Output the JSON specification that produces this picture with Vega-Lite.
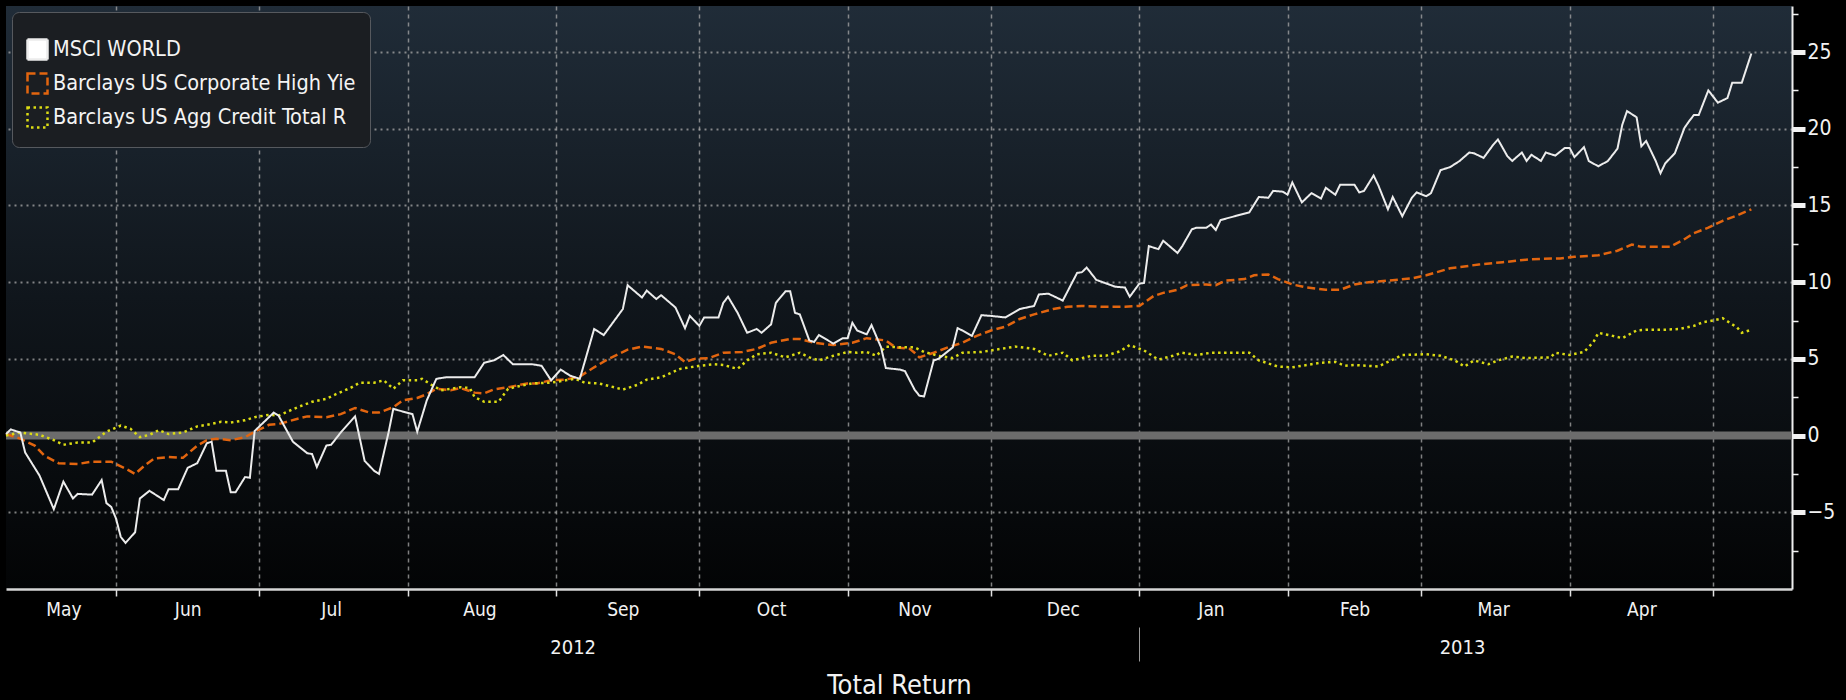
{
  "$schema": "https://vega.github.io/schema/vega-lite/v6.json",
  "width": 1786,
  "height": 583,
  "autosize": {"type": "none"},
  "padding": {"left": 6, "top": 6, "right": 54, "bottom": 111},
  "background": "#000000",
  "config": {
    "font": "DejaVu Sans Condensed",
    "view": {
      "stroke": null,
      "fill": {"gradient": "linear", "x1": 0, "y1": 0, "x2": 0, "y2": 1,
        "stops": [{"offset": 0, "color": "#202c38"}, {"offset": 0.5, "color": "#10161c"}, {"offset": 1, "color": "#030405"}]}
    },
    "axis": {"labelFont": "DejaVu Sans Condensed", "titleFont": "DejaVu Sans Condensed", "labelColor": "#f2f2f2", "titleColor": "#f2f2f2", "titleFontWeight": "normal"},
    "legend": {
      "orient": "top-left", "offset": 6, "direction": "vertical",
      "fillColor": "#1b1e22", "strokeColor": "#56595e", "cornerRadius": 7, "padding": 14,
      "titleFontSize": 8, "titlePadding": 4, "titleColor": "#1b1e22",
      "labelFont": "DejaVu Sans Condensed", "labelFontSize": 21.5, "labelColor": "#f4f4f4", "labelLimit": 500, "labelOffset": 4,
      "symbolType": "square", "symbolSize": 400, "symbolStrokeWidth": 2.5, "rowPadding": 3
    }
  },
  "data": {"values": [
    {"d":"2012-05-09","s":"MSCI WORLD","v":0.1},{"d":"2012-05-10","s":"MSCI WORLD","v":0.4},{"d":"2012-05-12","s":"MSCI WORLD","v":0.2},{"d":"2012-05-13","s":"MSCI WORLD","v":-1.1},{"d":"2012-05-16","s":"MSCI WORLD","v":-2.6},{"d":"2012-05-19","s":"MSCI WORLD","v":-4.8},{"d":"2012-05-21","s":"MSCI WORLD","v":-3.0},{"d":"2012-05-23","s":"MSCI WORLD","v":-4.1},{"d":"2012-05-24","s":"MSCI WORLD","v":-3.8},{"d":"2012-05-27","s":"MSCI WORLD","v":-3.85},{"d":"2012-05-29","s":"MSCI WORLD","v":-2.9},{"d":"2012-05-30","s":"MSCI WORLD","v":-4.4},{"d":"2012-05-31","s":"MSCI WORLD","v":-4.65},
    {"d":"2012-06-01","s":"MSCI WORLD","v":-5.4},{"d":"2012-06-02","s":"MSCI WORLD","v":-6.6},{"d":"2012-06-03","s":"MSCI WORLD","v":-7.0},{"d":"2012-06-05","s":"MSCI WORLD","v":-6.3},{"d":"2012-06-06","s":"MSCI WORLD","v":-4.1},{"d":"2012-06-08","s":"MSCI WORLD","v":-3.6},{"d":"2012-06-11","s":"MSCI WORLD","v":-4.2},{"d":"2012-06-12","s":"MSCI WORLD","v":-3.5},{"d":"2012-06-14","s":"MSCI WORLD","v":-3.5},{"d":"2012-06-16","s":"MSCI WORLD","v":-2.1},{"d":"2012-06-18","s":"MSCI WORLD","v":-1.8},{"d":"2012-06-20","s":"MSCI WORLD","v":-0.5},{"d":"2012-06-21","s":"MSCI WORLD","v":-0.4},{"d":"2012-06-22","s":"MSCI WORLD","v":-2.3},{"d":"2012-06-24","s":"MSCI WORLD","v":-2.3},{"d":"2012-06-25","s":"MSCI WORLD","v":-3.7},{"d":"2012-06-26","s":"MSCI WORLD","v":-3.7},{"d":"2012-06-28","s":"MSCI WORLD","v":-2.7},{"d":"2012-06-29","s":"MSCI WORLD","v":-2.75},{"d":"2012-06-30","s":"MSCI WORLD","v":0.3},
    {"d":"2012-07-04","s":"MSCI WORLD","v":1.5},{"d":"2012-07-05","s":"MSCI WORLD","v":1.3},{"d":"2012-07-08","s":"MSCI WORLD","v":-0.4},{"d":"2012-07-11","s":"MSCI WORLD","v":-1.15},{"d":"2012-07-12","s":"MSCI WORLD","v":-1.2},{"d":"2012-07-13","s":"MSCI WORLD","v":-2.05},{"d":"2012-07-15","s":"MSCI WORLD","v":-0.65},{"d":"2012-07-16","s":"MSCI WORLD","v":-0.6},{"d":"2012-07-18","s":"MSCI WORLD","v":0.2},{"d":"2012-07-21","s":"MSCI WORLD","v":1.25},{"d":"2012-07-23","s":"MSCI WORLD","v":-1.65},{"d":"2012-07-25","s":"MSCI WORLD","v":-2.3},{"d":"2012-07-26","s":"MSCI WORLD","v":-2.5},{"d":"2012-07-28","s":"MSCI WORLD","v":0.2},{"d":"2012-07-29","s":"MSCI WORLD","v":1.75},{"d":"2012-07-30","s":"MSCI WORLD","v":1.65},
    {"d":"2012-08-02","s":"MSCI WORLD","v":1.4},{"d":"2012-08-03","s":"MSCI WORLD","v":0.25},{"d":"2012-08-05","s":"MSCI WORLD","v":2.3},{"d":"2012-08-07","s":"MSCI WORLD","v":3.7},{"d":"2012-08-09","s":"MSCI WORLD","v":3.8},{"d":"2012-08-15","s":"MSCI WORLD","v":3.8},{"d":"2012-08-17","s":"MSCI WORLD","v":4.75},{"d":"2012-08-19","s":"MSCI WORLD","v":4.9},{"d":"2012-08-21","s":"MSCI WORLD","v":5.25},{"d":"2012-08-23","s":"MSCI WORLD","v":4.65},{"d":"2012-08-27","s":"MSCI WORLD","v":4.65},{"d":"2012-08-29","s":"MSCI WORLD","v":4.55},{"d":"2012-08-31","s":"MSCI WORLD","v":3.6},
    {"d":"2012-09-02","s":"MSCI WORLD","v":4.3},{"d":"2012-09-04","s":"MSCI WORLD","v":3.9},{"d":"2012-09-06","s":"MSCI WORLD","v":3.7},{"d":"2012-09-09","s":"MSCI WORLD","v":6.95},{"d":"2012-09-11","s":"MSCI WORLD","v":6.55},{"d":"2012-09-13","s":"MSCI WORLD","v":7.4},{"d":"2012-09-15","s":"MSCI WORLD","v":8.25},{"d":"2012-09-16","s":"MSCI WORLD","v":9.8},{"d":"2012-09-19","s":"MSCI WORLD","v":9.0},{"d":"2012-09-20","s":"MSCI WORLD","v":9.45},{"d":"2012-09-22","s":"MSCI WORLD","v":8.9},{"d":"2012-09-23","s":"MSCI WORLD","v":9.15},{"d":"2012-09-26","s":"MSCI WORLD","v":8.35},{"d":"2012-09-28","s":"MSCI WORLD","v":7.0},{"d":"2012-09-29","s":"MSCI WORLD","v":7.8},
    {"d":"2012-10-01","s":"MSCI WORLD","v":7.15},{"d":"2012-10-02","s":"MSCI WORLD","v":7.7},{"d":"2012-10-05","s":"MSCI WORLD","v":7.7},{"d":"2012-10-06","s":"MSCI WORLD","v":8.65},{"d":"2012-10-07","s":"MSCI WORLD","v":9.05},{"d":"2012-10-09","s":"MSCI WORLD","v":8.0},{"d":"2012-10-11","s":"MSCI WORLD","v":6.7},{"d":"2012-10-13","s":"MSCI WORLD","v":6.95},{"d":"2012-10-14","s":"MSCI WORLD","v":6.7},{"d":"2012-10-16","s":"MSCI WORLD","v":7.25},{"d":"2012-10-17","s":"MSCI WORLD","v":8.65},{"d":"2012-10-19","s":"MSCI WORLD","v":9.4},{"d":"2012-10-20","s":"MSCI WORLD","v":9.4},{"d":"2012-10-21","s":"MSCI WORLD","v":8.0},{"d":"2012-10-22","s":"MSCI WORLD","v":7.9},{"d":"2012-10-24","s":"MSCI WORLD","v":6.2},{"d":"2012-10-25","s":"MSCI WORLD","v":6.1},{"d":"2012-10-26","s":"MSCI WORLD","v":6.55},{"d":"2012-10-29","s":"MSCI WORLD","v":6.0},{"d":"2012-10-31","s":"MSCI WORLD","v":6.35},
    {"d":"2012-11-01","s":"MSCI WORLD","v":6.35},{"d":"2012-11-02","s":"MSCI WORLD","v":7.35},{"d":"2012-11-03","s":"MSCI WORLD","v":6.85},{"d":"2012-11-05","s":"MSCI WORLD","v":6.6},{"d":"2012-11-06","s":"MSCI WORLD","v":7.2},{"d":"2012-11-08","s":"MSCI WORLD","v":5.75},{"d":"2012-11-09","s":"MSCI WORLD","v":4.4},{"d":"2012-11-12","s":"MSCI WORLD","v":4.3},{"d":"2012-11-13","s":"MSCI WORLD","v":4.2},{"d":"2012-11-15","s":"MSCI WORLD","v":3.0},{"d":"2012-11-16","s":"MSCI WORLD","v":2.6},{"d":"2012-11-17","s":"MSCI WORLD","v":2.55},{"d":"2012-11-19","s":"MSCI WORLD","v":4.9},{"d":"2012-11-20","s":"MSCI WORLD","v":5.0},{"d":"2012-11-23","s":"MSCI WORLD","v":5.75},{"d":"2012-11-24","s":"MSCI WORLD","v":7.0},{"d":"2012-11-25","s":"MSCI WORLD","v":6.85},{"d":"2012-11-27","s":"MSCI WORLD","v":6.5},{"d":"2012-11-29","s":"MSCI WORLD","v":7.85},
    {"d":"2012-12-01","s":"MSCI WORLD","v":7.8},{"d":"2012-12-04","s":"MSCI WORLD","v":7.7},{"d":"2012-12-07","s":"MSCI WORLD","v":8.25},{"d":"2012-12-10","s":"MSCI WORLD","v":8.45},{"d":"2012-12-11","s":"MSCI WORLD","v":9.2},{"d":"2012-12-13","s":"MSCI WORLD","v":9.25},{"d":"2012-12-16","s":"MSCI WORLD","v":8.8},{"d":"2012-12-19","s":"MSCI WORLD","v":10.6},{"d":"2012-12-20","s":"MSCI WORLD","v":10.65},{"d":"2012-12-21","s":"MSCI WORLD","v":10.95},{"d":"2012-12-23","s":"MSCI WORLD","v":10.15},{"d":"2012-12-27","s":"MSCI WORLD","v":9.7},{"d":"2012-12-29","s":"MSCI WORLD","v":9.65},{"d":"2012-12-30","s":"MSCI WORLD","v":9.05},
    {"d":"2013-01-01","s":"MSCI WORLD","v":9.9},{"d":"2013-01-02","s":"MSCI WORLD","v":9.95},{"d":"2013-01-03","s":"MSCI WORLD","v":12.35},{"d":"2013-01-05","s":"MSCI WORLD","v":12.15},{"d":"2013-01-06","s":"MSCI WORLD","v":12.7},{"d":"2013-01-09","s":"MSCI WORLD","v":11.9},{"d":"2013-01-10","s":"MSCI WORLD","v":12.35},{"d":"2013-01-12","s":"MSCI WORLD","v":13.45},{"d":"2013-01-13","s":"MSCI WORLD","v":13.55},{"d":"2013-01-15","s":"MSCI WORLD","v":13.55},{"d":"2013-01-16","s":"MSCI WORLD","v":13.75},{"d":"2013-01-17","s":"MSCI WORLD","v":13.4},{"d":"2013-01-18","s":"MSCI WORLD","v":14.05},{"d":"2013-01-21","s":"MSCI WORLD","v":14.3},{"d":"2013-01-24","s":"MSCI WORLD","v":14.55},{"d":"2013-01-26","s":"MSCI WORLD","v":15.55},{"d":"2013-01-28","s":"MSCI WORLD","v":15.5},{"d":"2013-01-29","s":"MSCI WORLD","v":15.95},{"d":"2013-01-31","s":"MSCI WORLD","v":15.9},
    {"d":"2013-02-01","s":"MSCI WORLD","v":15.7},{"d":"2013-02-02","s":"MSCI WORLD","v":16.5},{"d":"2013-02-04","s":"MSCI WORLD","v":15.2},{"d":"2013-02-06","s":"MSCI WORLD","v":15.8},{"d":"2013-02-08","s":"MSCI WORLD","v":15.45},{"d":"2013-02-09","s":"MSCI WORLD","v":16.15},{"d":"2013-02-11","s":"MSCI WORLD","v":15.7},{"d":"2013-02-12","s":"MSCI WORLD","v":16.35},{"d":"2013-02-15","s":"MSCI WORLD","v":16.35},{"d":"2013-02-16","s":"MSCI WORLD","v":15.85},{"d":"2013-02-17","s":"MSCI WORLD","v":15.95},{"d":"2013-02-19","s":"MSCI WORLD","v":16.95},{"d":"2013-02-20","s":"MSCI WORLD","v":16.3},{"d":"2013-02-22","s":"MSCI WORLD","v":14.75},{"d":"2013-02-23","s":"MSCI WORLD","v":15.55},{"d":"2013-02-25","s":"MSCI WORLD","v":14.3},{"d":"2013-02-27","s":"MSCI WORLD","v":15.5},{"d":"2013-02-28","s":"MSCI WORLD","v":15.85},
    {"d":"2013-03-02","s":"MSCI WORLD","v":15.6},{"d":"2013-03-03","s":"MSCI WORLD","v":15.8},{"d":"2013-03-05","s":"MSCI WORLD","v":17.3},{"d":"2013-03-07","s":"MSCI WORLD","v":17.5},{"d":"2013-03-09","s":"MSCI WORLD","v":17.9},{"d":"2013-03-11","s":"MSCI WORLD","v":18.45},{"d":"2013-03-12","s":"MSCI WORLD","v":18.4},{"d":"2013-03-14","s":"MSCI WORLD","v":18.1},{"d":"2013-03-16","s":"MSCI WORLD","v":18.95},{"d":"2013-03-17","s":"MSCI WORLD","v":19.3},{"d":"2013-03-19","s":"MSCI WORLD","v":18.2},{"d":"2013-03-20","s":"MSCI WORLD","v":17.9},{"d":"2013-03-22","s":"MSCI WORLD","v":18.45},{"d":"2013-03-23","s":"MSCI WORLD","v":17.9},{"d":"2013-03-24","s":"MSCI WORLD","v":18.3},{"d":"2013-03-26","s":"MSCI WORLD","v":17.9},{"d":"2013-03-27","s":"MSCI WORLD","v":18.45},{"d":"2013-03-29","s":"MSCI WORLD","v":18.25},{"d":"2013-03-31","s":"MSCI WORLD","v":18.75},
    {"d":"2013-04-01","s":"MSCI WORLD","v":18.75},{"d":"2013-04-02","s":"MSCI WORLD","v":18.15},{"d":"2013-04-04","s":"MSCI WORLD","v":18.8},{"d":"2013-04-05","s":"MSCI WORLD","v":17.9},{"d":"2013-04-07","s":"MSCI WORLD","v":17.55},{"d":"2013-04-09","s":"MSCI WORLD","v":17.9},{"d":"2013-04-11","s":"MSCI WORLD","v":18.7},{"d":"2013-04-12","s":"MSCI WORLD","v":20.25},{"d":"2013-04-13","s":"MSCI WORLD","v":21.15},{"d":"2013-04-15","s":"MSCI WORLD","v":20.75},{"d":"2013-04-16","s":"MSCI WORLD","v":18.85},{"d":"2013-04-17","s":"MSCI WORLD","v":19.2},{"d":"2013-04-19","s":"MSCI WORLD","v":17.9},{"d":"2013-04-20","s":"MSCI WORLD","v":17.1},{"d":"2013-04-21","s":"MSCI WORLD","v":17.75},{"d":"2013-04-23","s":"MSCI WORLD","v":18.4},{"d":"2013-04-25","s":"MSCI WORLD","v":20.05},{"d":"2013-04-26","s":"MSCI WORLD","v":20.5},{"d":"2013-04-27","s":"MSCI WORLD","v":20.9},{"d":"2013-04-28","s":"MSCI WORLD","v":20.9},{"d":"2013-04-30","s":"MSCI WORLD","v":22.5},
    {"d":"2013-05-02","s":"MSCI WORLD","v":21.7},{"d":"2013-05-04","s":"MSCI WORLD","v":22.0},{"d":"2013-05-05","s":"MSCI WORLD","v":23.0},{"d":"2013-05-07","s":"MSCI WORLD","v":23.0},{"d":"2013-05-09","s":"MSCI WORLD","v":24.9},

    {"d":"2012-05-09","s":"Barclays US Corporate High Yie","v":0.1},{"d":"2012-05-12","s":"Barclays US Corporate High Yie","v":-0.2},{"d":"2012-05-15","s":"Barclays US Corporate High Yie","v":-0.65},{"d":"2012-05-17","s":"Barclays US Corporate High Yie","v":-1.3},{"d":"2012-05-20","s":"Barclays US Corporate High Yie","v":-1.8},{"d":"2012-05-24","s":"Barclays US Corporate High Yie","v":-1.85},{"d":"2012-05-27","s":"Barclays US Corporate High Yie","v":-1.7},{"d":"2012-05-31","s":"Barclays US Corporate High Yie","v":-1.7},
    {"d":"2012-06-03","s":"Barclays US Corporate High Yie","v":-2.15},{"d":"2012-06-05","s":"Barclays US Corporate High Yie","v":-2.5},{"d":"2012-06-07","s":"Barclays US Corporate High Yie","v":-1.95},{"d":"2012-06-09","s":"Barclays US Corporate High Yie","v":-1.5},{"d":"2012-06-12","s":"Barclays US Corporate High Yie","v":-1.4},{"d":"2012-06-15","s":"Barclays US Corporate High Yie","v":-1.45},{"d":"2012-06-18","s":"Barclays US Corporate High Yie","v":-0.65},{"d":"2012-06-20","s":"Barclays US Corporate High Yie","v":-0.3},{"d":"2012-06-22","s":"Barclays US Corporate High Yie","v":-0.2},{"d":"2012-06-25","s":"Barclays US Corporate High Yie","v":-0.3},{"d":"2012-06-28","s":"Barclays US Corporate High Yie","v":-0.1},{"d":"2012-06-30","s":"Barclays US Corporate High Yie","v":0.25},
    {"d":"2012-07-03","s":"Barclays US Corporate High Yie","v":0.7},{"d":"2012-07-05","s":"Barclays US Corporate High Yie","v":0.75},{"d":"2012-07-09","s":"Barclays US Corporate High Yie","v":1.1},{"d":"2012-07-11","s":"Barclays US Corporate High Yie","v":1.25},{"d":"2012-07-15","s":"Barclays US Corporate High Yie","v":1.2},{"d":"2012-07-18","s":"Barclays US Corporate High Yie","v":1.4},{"d":"2012-07-21","s":"Barclays US Corporate High Yie","v":1.8},{"d":"2012-07-24","s":"Barclays US Corporate High Yie","v":1.5},{"d":"2012-07-26","s":"Barclays US Corporate High Yie","v":1.5},{"d":"2012-07-29","s":"Barclays US Corporate High Yie","v":1.85},{"d":"2012-07-31","s":"Barclays US Corporate High Yie","v":2.3},
    {"d":"2012-08-03","s":"Barclays US Corporate High Yie","v":2.45},{"d":"2012-08-05","s":"Barclays US Corporate High Yie","v":2.7},{"d":"2012-08-07","s":"Barclays US Corporate High Yie","v":3.05},{"d":"2012-08-10","s":"Barclays US Corporate High Yie","v":2.95},{"d":"2012-08-12","s":"Barclays US Corporate High Yie","v":3.1},{"d":"2012-08-15","s":"Barclays US Corporate High Yie","v":2.8},{"d":"2012-08-17","s":"Barclays US Corporate High Yie","v":2.75},{"d":"2012-08-19","s":"Barclays US Corporate High Yie","v":3.0},{"d":"2012-08-22","s":"Barclays US Corporate High Yie","v":3.15},{"d":"2012-08-26","s":"Barclays US Corporate High Yie","v":3.4},{"d":"2012-08-28","s":"Barclays US Corporate High Yie","v":3.4},{"d":"2012-08-31","s":"Barclays US Corporate High Yie","v":3.6},
    {"d":"2012-09-03","s":"Barclays US Corporate High Yie","v":3.65},{"d":"2012-09-06","s":"Barclays US Corporate High Yie","v":3.85},{"d":"2012-09-09","s":"Barclays US Corporate High Yie","v":4.45},{"d":"2012-09-12","s":"Barclays US Corporate High Yie","v":5.0},{"d":"2012-09-16","s":"Barclays US Corporate High Yie","v":5.6},{"d":"2012-09-19","s":"Barclays US Corporate High Yie","v":5.8},{"d":"2012-09-23","s":"Barclays US Corporate High Yie","v":5.65},{"d":"2012-09-26","s":"Barclays US Corporate High Yie","v":5.3},{"d":"2012-09-28","s":"Barclays US Corporate High Yie","v":4.8},{"d":"2012-09-30","s":"Barclays US Corporate High Yie","v":5.0},
    {"d":"2012-10-03","s":"Barclays US Corporate High Yie","v":5.05},{"d":"2012-10-06","s":"Barclays US Corporate High Yie","v":5.4},{"d":"2012-10-10","s":"Barclays US Corporate High Yie","v":5.45},{"d":"2012-10-13","s":"Barclays US Corporate High Yie","v":5.65},{"d":"2012-10-16","s":"Barclays US Corporate High Yie","v":6.05},{"d":"2012-10-20","s":"Barclays US Corporate High Yie","v":6.3},{"d":"2012-10-22","s":"Barclays US Corporate High Yie","v":6.3},{"d":"2012-10-25","s":"Barclays US Corporate High Yie","v":6.05},{"d":"2012-10-29","s":"Barclays US Corporate High Yie","v":5.9},
    {"d":"2012-11-02","s":"Barclays US Corporate High Yie","v":6.05},{"d":"2012-11-05","s":"Barclays US Corporate High Yie","v":6.35},{"d":"2012-11-09","s":"Barclays US Corporate High Yie","v":6.2},{"d":"2012-11-11","s":"Barclays US Corporate High Yie","v":5.75},{"d":"2012-11-14","s":"Barclays US Corporate High Yie","v":5.65},{"d":"2012-11-15","s":"Barclays US Corporate High Yie","v":5.4},{"d":"2012-11-16","s":"Barclays US Corporate High Yie","v":5.1},{"d":"2012-11-19","s":"Barclays US Corporate High Yie","v":5.4},{"d":"2012-11-22","s":"Barclays US Corporate High Yie","v":5.75},{"d":"2012-11-25","s":"Barclays US Corporate High Yie","v":6.05},{"d":"2012-11-28","s":"Barclays US Corporate High Yie","v":6.5},
    {"d":"2012-12-01","s":"Barclays US Corporate High Yie","v":6.85},{"d":"2012-12-04","s":"Barclays US Corporate High Yie","v":7.1},{"d":"2012-12-07","s":"Barclays US Corporate High Yie","v":7.6},{"d":"2012-12-10","s":"Barclays US Corporate High Yie","v":7.9},{"d":"2012-12-14","s":"Barclays US Corporate High Yie","v":8.25},{"d":"2012-12-17","s":"Barclays US Corporate High Yie","v":8.4},{"d":"2012-12-20","s":"Barclays US Corporate High Yie","v":8.45},{"d":"2012-12-24","s":"Barclays US Corporate High Yie","v":8.4},{"d":"2012-12-29","s":"Barclays US Corporate High Yie","v":8.4},
    {"d":"2013-01-01","s":"Barclays US Corporate High Yie","v":8.45},{"d":"2013-01-04","s":"Barclays US Corporate High Yie","v":9.1},{"d":"2013-01-06","s":"Barclays US Corporate High Yie","v":9.3},{"d":"2013-01-09","s":"Barclays US Corporate High Yie","v":9.5},{"d":"2013-01-11","s":"Barclays US Corporate High Yie","v":9.8},{"d":"2013-01-15","s":"Barclays US Corporate High Yie","v":9.85},{"d":"2013-01-17","s":"Barclays US Corporate High Yie","v":9.8},{"d":"2013-01-19","s":"Barclays US Corporate High Yie","v":10.1},{"d":"2013-01-23","s":"Barclays US Corporate High Yie","v":10.2},{"d":"2013-01-25","s":"Barclays US Corporate High Yie","v":10.45},{"d":"2013-01-28","s":"Barclays US Corporate High Yie","v":10.5},{"d":"2013-01-30","s":"Barclays US Corporate High Yie","v":10.2},
    {"d":"2013-02-02","s":"Barclays US Corporate High Yie","v":9.85},{"d":"2013-02-05","s":"Barclays US Corporate High Yie","v":9.65},{"d":"2013-02-09","s":"Barclays US Corporate High Yie","v":9.5},{"d":"2013-02-12","s":"Barclays US Corporate High Yie","v":9.5},{"d":"2013-02-15","s":"Barclays US Corporate High Yie","v":9.85},{"d":"2013-02-18","s":"Barclays US Corporate High Yie","v":10.0},{"d":"2013-02-22","s":"Barclays US Corporate High Yie","v":10.1},{"d":"2013-02-27","s":"Barclays US Corporate High Yie","v":10.25},
    {"d":"2013-03-02","s":"Barclays US Corporate High Yie","v":10.45},{"d":"2013-03-07","s":"Barclays US Corporate High Yie","v":10.9},{"d":"2013-03-13","s":"Barclays US Corporate High Yie","v":11.15},{"d":"2013-03-18","s":"Barclays US Corporate High Yie","v":11.3},{"d":"2013-03-24","s":"Barclays US Corporate High Yie","v":11.5},{"d":"2013-03-30","s":"Barclays US Corporate High Yie","v":11.55},
    {"d":"2013-04-02","s":"Barclays US Corporate High Yie","v":11.65},{"d":"2013-04-07","s":"Barclays US Corporate High Yie","v":11.75},{"d":"2013-04-11","s":"Barclays US Corporate High Yie","v":12.05},{"d":"2013-04-14","s":"Barclays US Corporate High Yie","v":12.45},{"d":"2013-04-16","s":"Barclays US Corporate High Yie","v":12.3},{"d":"2013-04-19","s":"Barclays US Corporate High Yie","v":12.3},{"d":"2013-04-22","s":"Barclays US Corporate High Yie","v":12.3},{"d":"2013-04-25","s":"Barclays US Corporate High Yie","v":12.8},{"d":"2013-04-27","s":"Barclays US Corporate High Yie","v":13.2},{"d":"2013-04-30","s":"Barclays US Corporate High Yie","v":13.55},
    {"d":"2013-05-03","s":"Barclays US Corporate High Yie","v":14.0},{"d":"2013-05-06","s":"Barclays US Corporate High Yie","v":14.35},{"d":"2013-05-09","s":"Barclays US Corporate High Yie","v":14.75},

    {"d":"2012-05-09","s":"Barclays US Agg Credit Total R","v":0.0},{"d":"2012-05-12","s":"Barclays US Agg Credit Total R","v":0.2},{"d":"2012-05-16","s":"Barclays US Agg Credit Total R","v":0.05},{"d":"2012-05-19","s":"Barclays US Agg Credit Total R","v":-0.3},{"d":"2012-05-21","s":"Barclays US Agg Credit Total R","v":-0.6},{"d":"2012-05-24","s":"Barclays US Agg Credit Total R","v":-0.45},{"d":"2012-05-27","s":"Barclays US Agg Credit Total R","v":-0.45},{"d":"2012-05-30","s":"Barclays US Agg Credit Total R","v":0.25},
    {"d":"2012-06-02","s":"Barclays US Agg Credit Total R","v":0.65},{"d":"2012-06-04","s":"Barclays US Agg Credit Total R","v":0.45},{"d":"2012-06-06","s":"Barclays US Agg Credit Total R","v":-0.1},{"d":"2012-06-08","s":"Barclays US Agg Credit Total R","v":0.05},{"d":"2012-06-10","s":"Barclays US Agg Credit Total R","v":0.35},{"d":"2012-06-12","s":"Barclays US Agg Credit Total R","v":0.1},{"d":"2012-06-15","s":"Barclays US Agg Credit Total R","v":0.2},{"d":"2012-06-18","s":"Barclays US Agg Credit Total R","v":0.6},{"d":"2012-06-20","s":"Barclays US Agg Credit Total R","v":0.7},{"d":"2012-06-23","s":"Barclays US Agg Credit Total R","v":0.9},{"d":"2012-06-25","s":"Barclays US Agg Credit Total R","v":0.85},{"d":"2012-06-28","s":"Barclays US Agg Credit Total R","v":1.0},{"d":"2012-06-30","s":"Barclays US Agg Credit Total R","v":1.2},
    {"d":"2012-07-03","s":"Barclays US Agg Credit Total R","v":1.35},{"d":"2012-07-05","s":"Barclays US Agg Credit Total R","v":1.3},{"d":"2012-07-09","s":"Barclays US Agg Credit Total R","v":1.85},{"d":"2012-07-12","s":"Barclays US Agg Credit Total R","v":2.2},{"d":"2012-07-15","s":"Barclays US Agg Credit Total R","v":2.4},{"d":"2012-07-17","s":"Barclays US Agg Credit Total R","v":2.7},{"d":"2012-07-20","s":"Barclays US Agg Credit Total R","v":3.1},{"d":"2012-07-22","s":"Barclays US Agg Credit Total R","v":3.45},{"d":"2012-07-25","s":"Barclays US Agg Credit Total R","v":3.45},{"d":"2012-07-27","s":"Barclays US Agg Credit Total R","v":3.6},{"d":"2012-07-29","s":"Barclays US Agg Credit Total R","v":3.05},{"d":"2012-07-31","s":"Barclays US Agg Credit Total R","v":3.6},
    {"d":"2012-08-03","s":"Barclays US Agg Credit Total R","v":3.6},{"d":"2012-08-04","s":"Barclays US Agg Credit Total R","v":3.7},{"d":"2012-08-06","s":"Barclays US Agg Credit Total R","v":3.3},{"d":"2012-08-08","s":"Barclays US Agg Credit Total R","v":2.95},{"d":"2012-08-12","s":"Barclays US Agg Credit Total R","v":3.15},{"d":"2012-08-14","s":"Barclays US Agg Credit Total R","v":3.1},{"d":"2012-08-15","s":"Barclays US Agg Credit Total R","v":2.5},{"d":"2012-08-17","s":"Barclays US Agg Credit Total R","v":2.2},{"d":"2012-08-20","s":"Barclays US Agg Credit Total R","v":2.2},{"d":"2012-08-22","s":"Barclays US Agg Credit Total R","v":3.05},{"d":"2012-08-24","s":"Barclays US Agg Credit Total R","v":3.2},{"d":"2012-08-27","s":"Barclays US Agg Credit Total R","v":3.4},{"d":"2012-08-31","s":"Barclays US Agg Credit Total R","v":3.45},
    {"d":"2012-09-03","s":"Barclays US Agg Credit Total R","v":3.6},{"d":"2012-09-05","s":"Barclays US Agg Credit Total R","v":3.7},{"d":"2012-09-07","s":"Barclays US Agg Credit Total R","v":3.45},{"d":"2012-09-10","s":"Barclays US Agg Credit Total R","v":3.4},{"d":"2012-09-15","s":"Barclays US Agg Credit Total R","v":3.0},{"d":"2012-09-18","s":"Barclays US Agg Credit Total R","v":3.3},{"d":"2012-09-20","s":"Barclays US Agg Credit Total R","v":3.65},{"d":"2012-09-23","s":"Barclays US Agg Credit Total R","v":3.8},{"d":"2012-09-27","s":"Barclays US Agg Credit Total R","v":4.35},
    {"d":"2012-10-01","s":"Barclays US Agg Credit Total R","v":4.55},{"d":"2012-10-04","s":"Barclays US Agg Credit Total R","v":4.65},{"d":"2012-10-06","s":"Barclays US Agg Credit Total R","v":4.6},{"d":"2012-10-09","s":"Barclays US Agg Credit Total R","v":4.35},{"d":"2012-10-11","s":"Barclays US Agg Credit Total R","v":4.9},{"d":"2012-10-13","s":"Barclays US Agg Credit Total R","v":5.3},{"d":"2012-10-16","s":"Barclays US Agg Credit Total R","v":5.4},{"d":"2012-10-19","s":"Barclays US Agg Credit Total R","v":5.1},{"d":"2012-10-22","s":"Barclays US Agg Credit Total R","v":5.4},{"d":"2012-10-24","s":"Barclays US Agg Credit Total R","v":5.1},{"d":"2012-10-26","s":"Barclays US Agg Credit Total R","v":4.9},{"d":"2012-10-29","s":"Barclays US Agg Credit Total R","v":5.2},
    {"d":"2012-11-01","s":"Barclays US Agg Credit Total R","v":5.45},{"d":"2012-11-03","s":"Barclays US Agg Credit Total R","v":5.4},{"d":"2012-11-05","s":"Barclays US Agg Credit Total R","v":5.45},{"d":"2012-11-07","s":"Barclays US Agg Credit Total R","v":5.2},{"d":"2012-11-09","s":"Barclays US Agg Credit Total R","v":5.8},{"d":"2012-11-12","s":"Barclays US Agg Credit Total R","v":5.75},{"d":"2012-11-15","s":"Barclays US Agg Credit Total R","v":5.75},{"d":"2012-11-17","s":"Barclays US Agg Credit Total R","v":5.45},{"d":"2012-11-20","s":"Barclays US Agg Credit Total R","v":5.2},{"d":"2012-11-23","s":"Barclays US Agg Credit Total R","v":5.05},{"d":"2012-11-25","s":"Barclays US Agg Credit Total R","v":5.4},{"d":"2012-11-29","s":"Barclays US Agg Credit Total R","v":5.45},
    {"d":"2012-12-03","s":"Barclays US Agg Credit Total R","v":5.65},{"d":"2012-12-06","s":"Barclays US Agg Credit Total R","v":5.8},{"d":"2012-12-10","s":"Barclays US Agg Credit Total R","v":5.65},{"d":"2012-12-13","s":"Barclays US Agg Credit Total R","v":5.2},{"d":"2012-12-16","s":"Barclays US Agg Credit Total R","v":5.4},{"d":"2012-12-18","s":"Barclays US Agg Credit Total R","v":4.9},{"d":"2012-12-22","s":"Barclays US Agg Credit Total R","v":5.2},{"d":"2012-12-25","s":"Barclays US Agg Credit Total R","v":5.2},{"d":"2012-12-28","s":"Barclays US Agg Credit Total R","v":5.5},{"d":"2012-12-30","s":"Barclays US Agg Credit Total R","v":5.9},
    {"d":"2013-01-02","s":"Barclays US Agg Credit Total R","v":5.55},{"d":"2013-01-05","s":"Barclays US Agg Credit Total R","v":4.95},{"d":"2013-01-08","s":"Barclays US Agg Credit Total R","v":5.2},{"d":"2013-01-10","s":"Barclays US Agg Credit Total R","v":5.4},{"d":"2013-01-13","s":"Barclays US Agg Credit Total R","v":5.25},{"d":"2013-01-16","s":"Barclays US Agg Credit Total R","v":5.4},{"d":"2013-01-20","s":"Barclays US Agg Credit Total R","v":5.4},{"d":"2013-01-24","s":"Barclays US Agg Credit Total R","v":5.4},{"d":"2013-01-26","s":"Barclays US Agg Credit Total R","v":4.9},{"d":"2013-01-30","s":"Barclays US Agg Credit Total R","v":4.5},
    {"d":"2013-02-02","s":"Barclays US Agg Credit Total R","v":4.45},{"d":"2013-02-04","s":"Barclays US Agg Credit Total R","v":4.55},{"d":"2013-02-08","s":"Barclays US Agg Credit Total R","v":4.75},{"d":"2013-02-11","s":"Barclays US Agg Credit Total R","v":4.8},{"d":"2013-02-13","s":"Barclays US Agg Credit Total R","v":4.55},{"d":"2013-02-15","s":"Barclays US Agg Credit Total R","v":4.6},{"d":"2013-02-20","s":"Barclays US Agg Credit Total R","v":4.5},{"d":"2013-02-23","s":"Barclays US Agg Credit Total R","v":4.95},{"d":"2013-02-25","s":"Barclays US Agg Credit Total R","v":5.25},
    {"d":"2013-03-02","s":"Barclays US Agg Credit Total R","v":5.3},{"d":"2013-03-05","s":"Barclays US Agg Credit Total R","v":5.2},{"d":"2013-03-08","s":"Barclays US Agg Credit Total R","v":4.9},{"d":"2013-03-10","s":"Barclays US Agg Credit Total R","v":4.5},{"d":"2013-03-12","s":"Barclays US Agg Credit Total R","v":4.9},{"d":"2013-03-15","s":"Barclays US Agg Credit Total R","v":4.65},{"d":"2013-03-17","s":"Barclays US Agg Credit Total R","v":4.9},{"d":"2013-03-20","s":"Barclays US Agg Credit Total R","v":5.15},{"d":"2013-03-23","s":"Barclays US Agg Credit Total R","v":5.05},{"d":"2013-03-28","s":"Barclays US Agg Credit Total R","v":5.1},{"d":"2013-03-29","s":"Barclays US Agg Credit Total R","v":5.4},
    {"d":"2013-04-01","s":"Barclays US Agg Credit Total R","v":5.25},{"d":"2013-04-04","s":"Barclays US Agg Credit Total R","v":5.45},{"d":"2013-04-06","s":"Barclays US Agg Credit Total R","v":6.1},{"d":"2013-04-07","s":"Barclays US Agg Credit Total R","v":6.7},{"d":"2013-04-10","s":"Barclays US Agg Credit Total R","v":6.5},{"d":"2013-04-12","s":"Barclays US Agg Credit Total R","v":6.35},{"d":"2013-04-15","s":"Barclays US Agg Credit Total R","v":6.85},{"d":"2013-04-17","s":"Barclays US Agg Credit Total R","v":6.9},{"d":"2013-04-21","s":"Barclays US Agg Credit Total R","v":6.9},{"d":"2013-04-24","s":"Barclays US Agg Credit Total R","v":6.95},{"d":"2013-04-27","s":"Barclays US Agg Credit Total R","v":7.15},{"d":"2013-04-29","s":"Barclays US Agg Credit Total R","v":7.4},
    {"d":"2013-05-01","s":"Barclays US Agg Credit Total R","v":7.5},{"d":"2013-05-03","s":"Barclays US Agg Credit Total R","v":7.65},{"d":"2013-05-06","s":"Barclays US Agg Credit Total R","v":7.05},{"d":"2013-05-07","s":"Barclays US Agg Credit Total R","v":6.7},{"d":"2013-05-09","s":"Barclays US Agg Credit Total R","v":6.9}
  ]},
  "layer": [
    {
      "data": {"values": [{"level": 0}]},
      "mark": {"type": "rule", "color": "#6c6c6c", "strokeWidth": 8},
      "encoding": {
        "y": {"field": "level", "type": "quantitative", "title": null,
          "scale": {"domain": [-10, 28], "nice": false, "zero": false},
          "axis": {
            "orient": "right", "title": null,
            "values": [-7.5, -5, -2.5, 0, 2.5, 5, 7.5, 10, 12.5, 15, 17.5, 20, 22.5, 25, 27.5],
            "labelExpr": "datum.value % 5 === 0 ? datum.label : ''",
            "labelFontSize": 21, "labelPadding": 2, "labelColor": "#f2f2f2",
            "domain": true, "domainColor": "#eeeeee", "domainWidth": 2,
            "ticks": true, "tickColor": "#f2f2f2",
            "tickSize": {"condition": {"test": "datum.value % 5 === 0", "value": 13}, "value": 6},
            "tickWidth": {"condition": {"test": "datum.value % 5 === 0", "value": 5}, "value": 1.5},
            "grid": true, "gridColor": "#a8a8a8", "gridDash": [2, 4], "gridWidth": 2,
            "gridOpacity": {"condition": {"test": "datum.value % 5 === 0 && datum.value !== 0", "value": 0.75}, "value": 0}
          }
        }
      }
    },
    {
      "transform": [{"filter": "datum.s !== 'MSCI WORLD'"}],
      "mark": {"type": "line", "strokeWidth": 2.5},
      "encoding": {
        "x": {"field": "d", "type": "temporal", "title": "Total Return",
          "scale": {"domain": [{"year": 2012, "month": 5, "date": 9, "utc": true}, {"year": 2013, "month": 5, "date": 17, "hours": 12, "utc": true}]},
          "axis": {
            "orient": "bottom", "title": "Total Return",
            "values": [{"year": 2012, "month": 9, "date": 4, "hours": 12, "utc": true}, {"year": 2013, "month": 1, "date": 1, "utc": true}, {"year": 2013, "month": 3, "date": 9, "hours": 12, "utc": true}],
            "labelExpr": "utcdate(datum.value) === 1 ? '' : utcFormat(datum.value, '%Y')",
            "offset": 38, "domain": false, "grid": false,
            "ticks": true, "tickSize": 34, "tickWidth": 1, "tickColor": "#9a9a9a",
            "tickOpacity": {"condition": {"test": "utcdate(datum.value) === 1", "value": 1}, "value": 0},
            "labelPadding": -24, "labelFontSize": 20, "labelOverlap": false, "labelFlush": false, "labelBound": false,
            "titleFontSize": 27, "titlePadding": 11, "titleFontWeight": "normal"
          }
        },
        "y": {"field": "v", "type": "quantitative", "title": null, "scale": {"domain": [-10, 28], "nice": false, "zero": false}},
        "color": {"field": "s", "type": "nominal",
          "scale": {"domain": ["MSCI WORLD", "Barclays US Corporate High Yie", "Barclays US Agg Credit Total R"], "range": ["#ececec", "#e2650f", "#dcdc14"]},
          "legend": {"title": " ", "encode": {"symbols": {"update": {"fill": {"signal": "datum.value === 'MSCI WORLD' ? '#ffffff' : 'transparent'"}}}}}},
        "strokeDash": {"field": "s", "type": "nominal",
          "scale": {"domain": ["MSCI WORLD", "Barclays US Corporate High Yie", "Barclays US Agg Credit Total R"], "range": [[1, 0], [8, 4], [2.5, 3.5]]},
          "legend": {"title": " "}}
      }
    },
    {
      "transform": [{"filter": "datum.s === 'MSCI WORLD'"}],
      "mark": {"type": "line", "strokeWidth": 2},
      "encoding": {
        "x": {"field": "d", "type": "temporal", "title": null,
          "scale": {"domain": [{"year": 2012, "month": 5, "date": 9, "utc": true}, {"year": 2013, "month": 5, "date": 17, "hours": 12, "utc": true}]},
          "axis": {
            "orient": "bottom", "title": null,
            "values": [
              {"year": 2012, "month": 6, "date": 1, "utc": true}, {"year": 2012, "month": 7, "date": 1, "utc": true}, {"year": 2012, "month": 8, "date": 1, "utc": true}, {"year": 2012, "month": 9, "date": 1, "utc": true}, {"year": 2012, "month": 10, "date": 1, "utc": true}, {"year": 2012, "month": 11, "date": 1, "utc": true}, {"year": 2012, "month": 12, "date": 1, "utc": true}, {"year": 2013, "month": 1, "date": 1, "utc": true}, {"year": 2013, "month": 2, "date": 1, "utc": true}, {"year": 2013, "month": 3, "date": 1, "utc": true}, {"year": 2013, "month": 4, "date": 1, "utc": true}, {"year": 2013, "month": 5, "date": 1, "utc": true},
              {"year": 2012, "month": 5, "date": 21, "utc": true}, {"year": 2012, "month": 6, "date": 16, "utc": true}, {"year": 2012, "month": 7, "date": 16, "utc": true}, {"year": 2012, "month": 8, "date": 16, "utc": true}, {"year": 2012, "month": 9, "date": 15, "utc": true}, {"year": 2012, "month": 10, "date": 16, "utc": true}, {"year": 2012, "month": 11, "date": 15, "utc": true}, {"year": 2012, "month": 12, "date": 16, "utc": true}, {"year": 2013, "month": 1, "date": 16, "utc": true}, {"year": 2013, "month": 2, "date": 15, "utc": true}, {"year": 2013, "month": 3, "date": 16, "utc": true}, {"year": 2013, "month": 4, "date": 16, "utc": true}
            ],
            "labelExpr": "utcdate(datum.value) === 1 ? '' : utcFormat(datum.value, '%b')",
            "labelFontSize": 19, "labelPadding": 4, "labelOverlap": false, "labelFlush": false, "labelBound": false,
            "domain": true, "domainColor": "#d6d6d6", "domainWidth": 2.5,
            "ticks": true, "tickColor": "#e0e0e0", "tickSize": 7, "tickWidth": 1.5,
            "tickOpacity": {"condition": {"test": "utcdate(datum.value) === 1", "value": 1}, "value": 0},
            "grid": true, "gridColor": "#a8a8a8", "gridDash": [4, 4], "gridWidth": 1.5,
            "gridOpacity": {"condition": {"test": "utcdate(datum.value) === 1", "value": 0.75}, "value": 0}
          }
        },
        "y": {"field": "v", "type": "quantitative", "title": null, "scale": {"domain": [-10, 28], "nice": false, "zero": false}},
        "color": {"field": "s", "type": "nominal",
          "scale": {"domain": ["MSCI WORLD", "Barclays US Corporate High Yie", "Barclays US Agg Credit Total R"], "range": ["#ececec", "#e2650f", "#dcdc14"]},
          "legend": {"title": " ", "encode": {"symbols": {"update": {"fill": {"signal": "datum.value === 'MSCI WORLD' ? '#ffffff' : 'transparent'"}}}}}},
        "strokeDash": {"field": "s", "type": "nominal",
          "scale": {"domain": ["MSCI WORLD", "Barclays US Corporate High Yie", "Barclays US Agg Credit Total R"], "range": [[1, 0], [8, 4], [2.5, 3.5]]},
          "legend": {"title": " "}}
      }
    }
  ],
  "resolve": {"axis": {"x": "independent"}}
}
